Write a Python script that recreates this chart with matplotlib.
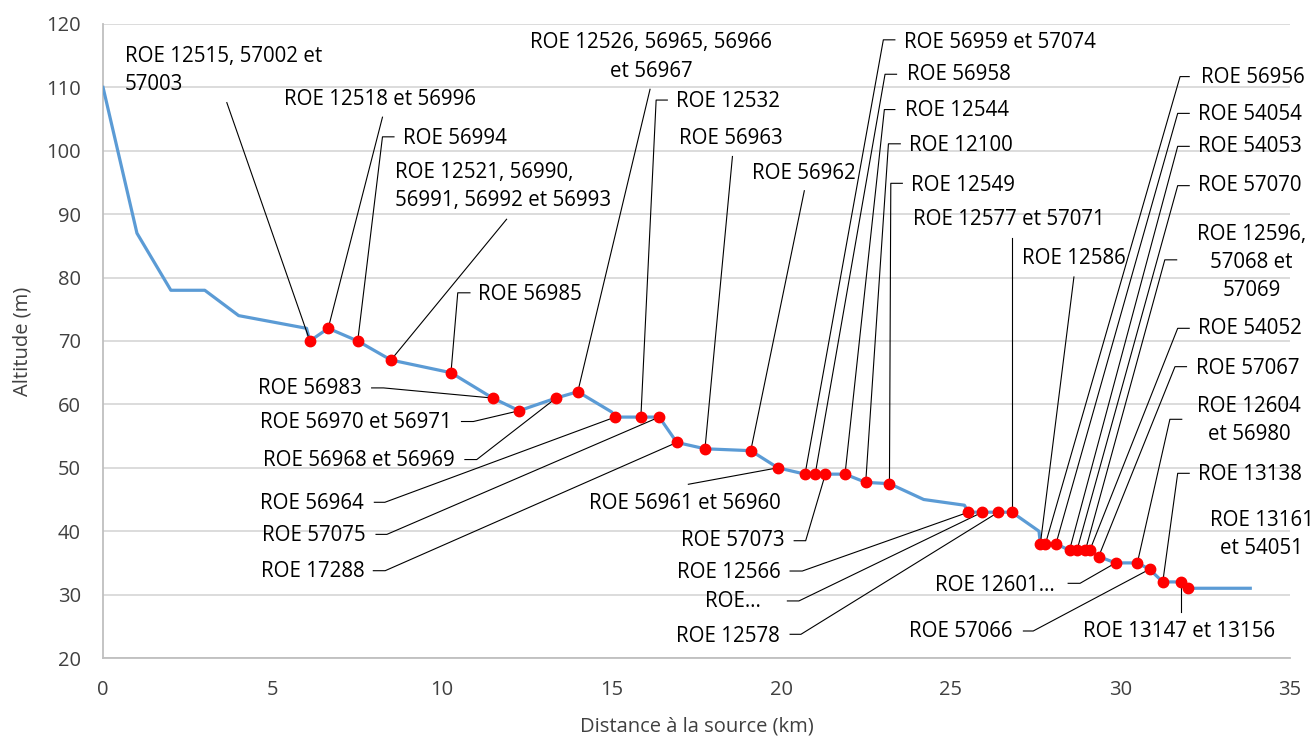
import matplotlib
matplotlib.use('Agg')
import matplotlib.pyplot as plt

# Longitudinal profile (distance from source in km, altitude in m)
profile_km = [0, 1, 2, 3, 4, 6, 6.1, 6.64, 7.51, 8.49, 10.26, 11.49, 12.27, 13.36, 14.0,
              15.0, 15.1, 15.86, 16.4, 16.92, 17.75, 19.1, 19.9, 20.7, 21.0, 21.3, 21.88,
              22.49, 23.19, 24.2, 25.4, 25.52, 25.93, 26.4, 26.8, 27.6, 27.64, 27.79, 28.1,
              28.5, 28.72, 28.97, 29.1, 29.36, 29.86, 30.5, 30.86, 31.25, 31.8, 32.0, 33.83]
profile_alt = [110, 87, 78, 78, 74, 72, 70, 72, 70, 67, 65, 61, 59, 61, 62,
               58.8, 58, 58, 58, 54, 53, 52.7, 50, 49, 49, 49, 49,
               47.7, 47.5, 45, 44.1, 43, 43, 43, 43, 40, 38, 38, 38,
               37, 37, 37, 37, 36, 35, 35, 34, 32, 32, 31, 31]

# ROE obstacles
roe_km = [6.1, 6.64, 7.51, 8.49, 10.26, 11.49, 12.27, 13.36, 14.0, 15.1, 15.86, 16.4,
          16.92, 17.75, 19.1, 19.9, 20.7, 21.0, 21.3, 21.88, 22.49, 23.19, 25.52, 25.93,
          26.4, 26.8, 27.64, 27.79, 28.1, 28.5, 28.72, 28.97, 29.1, 29.36, 29.86, 30.5,
          30.86, 31.25, 31.8, 32.0]
roe_alt = [70, 72, 70, 67, 65, 61, 59, 61, 62, 58, 58, 58,
           54, 53, 52.7, 50, 49, 49, 49, 49, 47.7, 47.5, 43, 43,
           43, 43, 38, 38, 38, 37, 37, 37, 37, 36, 35, 35,
           34, 32, 32, 31]
roe_labels = [
    'ROE 12515, 57002 et\n57003', 'ROE 12518 et 56996', 'ROE 56994',
    'ROE 12521, 56990,\n56991, 56992 et 56993', 'ROE 56985', 'ROE 56983',
    'ROE 56970 et 56971', 'ROE 56968 et 56969', 'ROE 12526, 56965, 56966\net 56967',
    'ROE 56964', 'ROE 12532', 'ROE 57075', 'ROE 17288', 'ROE 56963', 'ROE 56962',
    'ROE 56961 et 56960', 'ROE 56959 et 57074', 'ROE 56958', 'ROE 57073', 'ROE 12544',
    'ROE 12100', 'ROE 12549', 'ROE 12566', 'ROE\u2026', 'ROE 12578', 'ROE 12577 et 57071',
    'ROE 12586', 'ROE 56956', 'ROE 54054', 'ROE 54053', 'ROE 57070',
    'ROE 12596,\n57068 et\n57069', 'ROE 54052', 'ROE 57067', 'ROE 12601\u2026',
    'ROE 12604\net 56980', 'ROE 57066', 'ROE 13138', 'ROE 13147 et 13156',
    'ROE 13161\net 54051',
]

# label layout: text x, text y, ha, leader points (before reaching the marker)
label_layout = [
    (0.65, 112.7, 'left', [(3.65, 107.6)]),
    (5.34, 108.1, 'left', [(8.24, 105.3)]),
    (8.84, 101.9, 'left', [(8.58, 102.2), (8.24, 102.2)]),
    (8.61, 94.4, 'left', [(11.9, 89.2)]),
    (11.06, 77.4, 'left', [(10.82, 77.6), (10.46, 77.6)]),
    (7.63, 62.5, 'right', [(7.92, 62.6), (8.27, 62.6)]),
    (10.28, 57.2, 'right', [(10.57, 57.3), (10.92, 57.3)]),
    (10.38, 51.2, 'right', [(10.67, 51.3), (11.02, 51.3)]),
    (16.16, 114.8, 'center', [(16.13, 109.7)]),
    (7.70, 44.4, 'right', [(8.0, 44.56), (8.31, 44.56)]),
    (16.9, 107.7, 'left', [(16.64, 108.0), (16.31, 108.0)]),
    (7.75, 39.4, 'right', [(8.05, 39.5), (8.37, 39.5)]),
    (7.70, 33.7, 'right', [(7.97, 33.77), (8.32, 33.77)]),
    (16.99, 102.0, 'left', [(18.56, 99.1)]),
    (19.13, 96.45, 'left', [(20.68, 93.7)]),
    (14.34, 44.4, 'left', [(17.26, 47.4)]),
    (23.62, 117.1, 'left', [(23.35, 117.5), (23.01, 117.5)]),
    (23.70, 112.0, 'left', [(23.40, 112.07), (23.06, 112.07)]),
    (20.09, 38.5, 'right', [(20.38, 38.5), (20.72, 38.5)]),
    (23.65, 106.3, 'left', [(23.35, 106.5), (23.04, 106.5)]),
    (23.78, 100.9, 'left', [(23.51, 101.1), (23.16, 101.1)]),
    (23.84, 94.6, 'left', [(23.57, 94.87), (23.23, 94.87)]),
    (19.99, 33.5, 'right', [(20.26, 33.72), (20.62, 33.72)]),
    (19.40, 28.9, 'right', [(20.18, 29.0), (20.52, 29.0)]),
    (19.96, 23.47, 'right', [(20.26, 23.74), (20.58, 23.74)]),
    (23.89, 89.1, 'left', [(26.8, 86.2)]),
    (27.09, 83.0, 'left', [(28.63, 80.1)]),
    (32.37, 111.6, 'left', [(32.03, 111.7), (31.76, 111.7)]),
    (32.30, 105.8, 'left', [(32.03, 105.9), (31.69, 105.9)]),
    (32.30, 100.6, 'left', [(32.03, 100.7), (31.69, 100.7)]),
    (32.30, 94.45, 'left', [(32.03, 94.5), (31.69, 94.5)]),
    (33.87, 82.4, 'center', [(31.66, 82.8), (31.31, 82.8)]),
    (32.30, 71.9, 'left', [(32.03, 72.0), (31.69, 72.0)]),
    (32.22, 65.7, 'left', [(31.95, 65.95), (31.61, 65.95)]),
    (28.07, 31.5, 'right', [(28.46, 31.78), (28.81, 31.78)]),
    (33.79, 57.4, 'center', [(31.81, 57.65), (31.46, 57.65)]),
    (26.82, 24.15, 'right', [(27.14, 24.26), (27.43, 24.26)]),
    (32.30, 49.0, 'left', [(32.03, 49.13), (31.69, 49.13)]),
    (28.9, 24.15, 'left', [(31.8, 27.3)]),
    (34.17, 39.5, 'center', []),
]

plt.rcParams['font.family'] = ['Open Sans', 'DejaVu Sans']

fig = plt.figure(figsize=(13.16, 7.4), dpi=100)
ax = fig.add_axes([0.0783, 0.1108, 0.9019, 0.8568])

ax.plot(profile_km, profile_alt, color='#5B9BD5', linewidth=2.3, zorder=3,
        solid_joinstyle='round')
ax.plot(roe_km, roe_alt, linestyle='none', marker='o', markersize=7.5,
        color='#FF0000', zorder=5)

for x, y, label, (tx, ty, ha, pts) in zip(roe_km, roe_alt, roe_labels, label_layout):
    ax.text(tx, ty, label, ha=ha, va='center', fontsize=14.8, multialignment=ha,
            linespacing=1.45, color='black', zorder=6)
    if pts:
        xs = [p[0] for p in pts] + [x]
        ys = [p[1] for p in pts] + [y]
        ax.plot(xs, ys, color='black', linewidth=0.8, zorder=4)

ax.set_xlim(0, 35)
ax.set_ylim(20, 120)
ax.set_xticks(range(0, 36, 5))
ax.set_yticks(range(20, 121, 10))
ax.tick_params(length=0, labelsize=14.5, colors='#404040')
ax.tick_params(axis='y', pad=16)
ax.tick_params(axis='x', pad=16)
ax.grid(axis='y', color='#D9D9D9', linewidth=1.3)
ax.set_axisbelow(True)
for side in ['top', 'right']:
    ax.spines[side].set_visible(False)
for side in ['left', 'bottom']:
    ax.spines[side].set_color('#BFBFBF')
    ax.spines[side].set_linewidth(1.3)
ax.set_xlabel('Distance à la source (km)', fontsize=14.5, color='#404040', labelpad=12)
ax.set_ylabel('Altitude (m)', fontsize=14.5, color='#404040', labelpad=10)

fig.savefig('out.png', dpi=100)
